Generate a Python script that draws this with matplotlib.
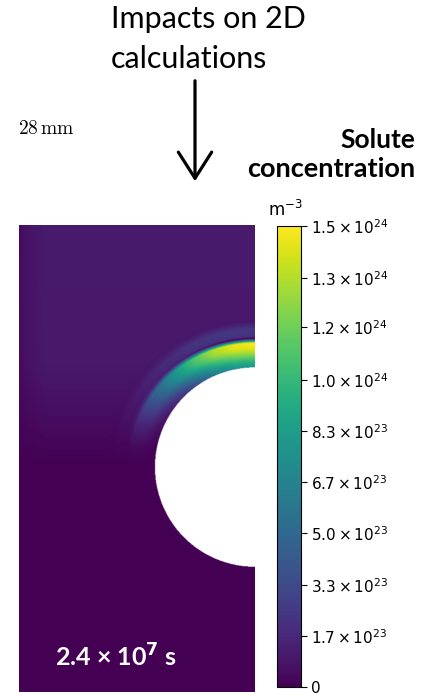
import numpy as np
import matplotlib
matplotlib.use("Agg")
import matplotlib.pyplot as plt
from matplotlib.patches import FancyArrowPatch

# ---------------- data ----------------
# domain (mm) and hole geometry
domain_width_mm = 14.0
domain_height_mm = 27.82
hole_center_y_mm = 13.37
hole_radius_mm = 5.93

# angular samples measured from the hole centre (90 = straight up, 180 = left)
theta_deg = [90, 100, 110, 120, 130, 140, 150, 160, 170, 180]
band_peak = [1.50e24, 1.46e24, 1.32e24, 1.08e24, 0.80e24, 0.55e24, 0.33e24, 0.15e24, 0.04e24, 0.0]
band_inner_frac = [0.55, 0.55, 0.50, 0.40, 0.28, 0.16, 0.07, 0.02, 0.0, 0.0]
band_spread = [1.0, 1.0, 1.05, 1.1, 1.15, 1.2, 1.25, 1.3, 1.3, 1.3]
ring_level = [0.20e24, 0.20e24, 0.19e24, 0.17e24, 0.14e24, 0.11e24, 0.08e24, 0.05e24, 0.02e24, 0.0]

# radial shape of the band (distance from hole surface, mm)
band_d_mm = [0.0, 0.3, 0.6, 0.9, 1.15, 1.45, 1.6, 1.72]
band_shape = [0.52, 0.62, 0.76, 0.88, 0.97, 1.0, 0.45, 0.0]
ring_d_mm = [1.72, 1.85, 2.25, 2.45, 2.75]
ring_shape = [0.0, 1.0, 1.0, 0.55, 0.0]

# background (upper region slightly elevated)
bg_y_mm = [0.0, 13.5, 16.0, 19.5, 27.82]
bg_vals = [0.0, 0.0, 0.45e23, 1.0e23, 1.1e23]
bg_x_mm = [0.0, 0.3, 1.5, 14.0]
bg_xfac = [0.35, 0.6, 1.0, 1.0]

vmax = 1.5e24
cbar_ticks = [0, 1.67e23, 3.33e23, 5.0e23, 6.67e23, 8.33e23, 1.0e24, 1.17e24, 1.33e24, 1.5e24]
cbar_labels = ["0", r"$1.7\times10^{23}$", r"$3.3\times10^{23}$", r"$5.0\times10^{23}$",
               r"$6.7\times10^{23}$", r"$8.3\times10^{23}$", r"$1.0\times10^{24}$",
               r"$1.2\times10^{24}$", r"$1.3\times10^{24}$", r"$1.5\times10^{24}$"]

# ---------------- build field ----------------
nx, ny = 470, 934
x = np.linspace(0, domain_width_mm, nx)
y = np.linspace(0, domain_height_mm, ny)
X, Y = np.meshgrid(x, y)
dx = X - domain_width_mm
dy = Y - hole_center_y_mm
r = np.hypot(dx, dy)
th = np.degrees(np.arctan2(dy, dx))
th = np.where(th < 0, th + 360, th)
th_c = np.clip(th, 90, 180)
d = r - hole_radius_mm

amp = np.interp(th_c, theta_deg, band_peak)
inner = np.interp(th_c, theta_deg, band_inner_frac)
spread = np.interp(th_c, theta_deg, band_spread)
# at larger angles the band becomes more diffuse: rescale the radial coordinate about its centre
d_eff = 1.15 + (d - 1.15) / spread
shape = np.interp(d_eff, band_d_mm, band_shape, left=0, right=0)
t = np.clip(d_eff / 0.9, 0, 1)
shape = np.where(d_eff < 0.9, shape * (t + (1 - t) * inner / 0.55), shape)
band = amp * shape * (d >= 0)

ring = np.interp(th_c, theta_deg, ring_level) * np.interp(d, ring_d_mm, ring_shape, left=0, right=0)
bg = np.interp(Y, bg_y_mm, bg_vals) * np.interp(X, bg_x_mm, bg_xfac)
band_region = np.interp(d, [1.6, 2.9], [0, 1])
field = bg * band_region + band + ring
field = np.clip(field, 0, vmax)
field = np.ma.masked_where(r < hole_radius_mm, field)

# ---------------- figure ----------------
W, H = 432, 696
fig = plt.figure(figsize=(W / 100, H / 100), dpi=100)

ax = fig.add_axes([19 / W, 4 / H, 235 / W, 467 / H])
cmap = plt.get_cmap("viridis").copy()
cmap.set_bad("white")
im = ax.imshow(field, origin="lower", extent=[0, domain_width_mm, 0, domain_height_mm],
               cmap=cmap, vmin=0, vmax=vmax, aspect="auto", interpolation="bilinear")
ax.set_axis_off()

cax = fig.add_axes([277 / W, 9 / H, 24 / W, 461 / H])
cb = fig.colorbar(im, cax=cax, ticks=cbar_ticks)
cb.ax.set_yticklabels(cbar_labels, fontsize=11)
cb.ax.tick_params(length=4, width=0.8)
cb.outline.set_linewidth(0.8)
fig.text(285 / W, 1 - 210 / H, r"m$^{-3}$", fontsize=12, ha="center", va="center")

# annotations
fig.text(111 / W, 1 - 28 / H, "Impacts on 2D", fontsize=22, family="Lato", ha="left", va="baseline")
fig.text(111 / W, 1 - 68 / H, "calculations", fontsize=22, family="Lato", ha="left", va="baseline")
arrow = FancyArrowPatch((195 / W, 1 - 78 / H), (195 / W, 1 - 184 / H),
                        arrowstyle="->,head_length=0.94,head_width=0.6", mutation_scale=20,
                        lw=2.3, color="black", transform=fig.transFigure)
fig.add_artist(arrow)

fig.text(18 / W, 1 - 128 / H, r"$28\,\mathrm{mm}$", fontsize=14, ha="left", va="center",
         math_fontfamily="cm")

fig.text(415 / W, 1 - 148 / H, "Solute", fontsize=19, family="Lato", weight="bold",
         ha="right", va="baseline")
fig.text(415 / W, 1 - 177 / H, "concentration", fontsize=19.5, family="Lato", weight="bold",
         ha="right", va="baseline")

fig.text(55 / W, 1 - 667 / H, r"2.4 × 10$^{\mathbf{7}}$ s", fontsize=18, family="Lato",
         weight="bold", color="white", ha="left", va="baseline")

fig.savefig("out.png", dpi=100)
